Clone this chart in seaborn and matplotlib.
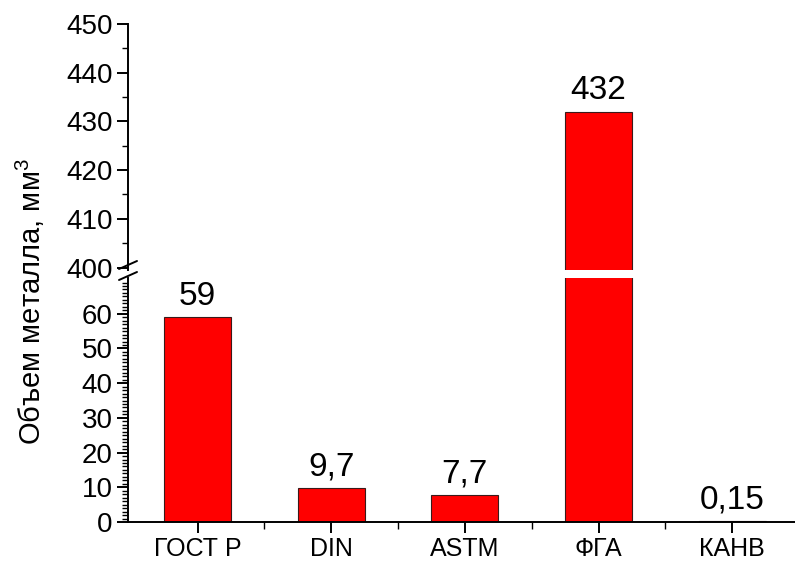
import matplotlib
matplotlib.use("Agg")
import matplotlib.pyplot as plt
import pandas as pd
import seaborn as sns

categories = ["ГОСТ Р", "DIN", "ASTM", "ФГА", "КАНВ"]
values = [59, 9.7, 7.7, 432, 0.15]
value_labels = ["59", "9,7", "7,7", "432", "0,15"]
upper_ticks = [400, 410, 420, 430, 440, 450]
lower_ticks = [0, 10, 20, 30, 40, 50, 60]
ylabel = "Объем металла, мм$^3$"

sns.set_style("ticks")
plt.rcParams["font.family"] = ["Liberation Sans", "DejaVu Sans"]
plt.rcParams["mathtext.fontset"] = "custom"
plt.rcParams["mathtext.rm"] = "Liberation Sans"
plt.rcParams["mathtext.it"] = "Liberation Sans"
plt.rcParams["text.color"] = "black"
plt.rcParams["xtick.color"] = "black"
plt.rcParams["ytick.color"] = "black"
plt.rcParams["axes.edgecolor"] = "black"

df = pd.DataFrame({"cat": categories, "val": values})

fig = plt.figure(figsize=(7.95, 5.62), dpi=100)
left = 128 / 795
ax_top = fig.add_axes([left, 1 - 270 / 562, 1 - left, (270 - 24) / 562])
ax_bot = fig.add_axes([left, 1 - 522 / 562, 1 - left, (522 - 278) / 562])

for ax in (ax_top, ax_bot):
    sns.barplot(data=df, x="cat", y="val", ax=ax, color="#ff0000",
                saturation=1, width=0.5, edgecolor="#3a1a1a", linewidth=0.8)
    ax.set_xlim(-0.52, 4.47)
    ax.set_xlabel(""); ax.set_ylabel("")
    for s in ("top", "right"):
        ax.spines[s].set_visible(False)
    ax.spines["left"].set_linewidth(1.4)
    ax.spines["bottom"].set_linewidth(1.4)
    ax.tick_params(axis="y", which="major", length=8, width=1.4, labelsize=20,
                   direction="out", pad=3, labelcolor="black")
    ax.tick_params(axis="y", which="minor", length=4, width=1.0, direction="out")

ax_top.set_ylim(399.5, 450)
ax_top.set_yticks(upper_ticks)
ax_top.set_yticks(range(405, 450, 10), minor=True)
ax_top.spines["bottom"].set_visible(False)
ax_top.tick_params(axis="x", which="both", bottom=False, labelbottom=False)

ax_bot.set_ylim(0, 70.3)
ax_bot.set_yticks(lower_ticks)
ax_bot.set_yticks([v for v in range(0, 70) if v % 10], minor=True)
ax_bot.set_xticks(range(len(categories)))
ax_bot.set_xticklabels(categories)
ax_bot.set_xticks([0.5, 1.5, 2.5, 3.5], minor=True)
ax_bot.tick_params(axis="x", which="major", length=8, width=1.4, labelsize=18,
                   pad=3, labelcolor="black")
ax_bot.tick_params(axis="x", which="minor", length=5, width=1.0)

# value labels
for i, (v, lab) in enumerate(zip(values, value_labels)):
    ax = ax_top if v > 70 else ax_bot
    ax.annotate(lab, (i, v), xytext=(0, 4), textcoords="offset points",
                ha="center", va="bottom", fontsize=24, color="black")

# axis break marks
for y in (265, 276):
    fig.add_artist(plt.Line2D([left - 9 / 795, left + 9 / 795],
                              [1 - (y + 4) / 562, 1 - (y - 4) / 562],
                              color="black", lw=1.4))

fig.text(30 / 795, 1 - 302 / 562, ylabel, rotation=90, ha="center", va="center",
         fontsize=21, color="black")

plt.savefig("out.png", dpi=100)
plt.close()
